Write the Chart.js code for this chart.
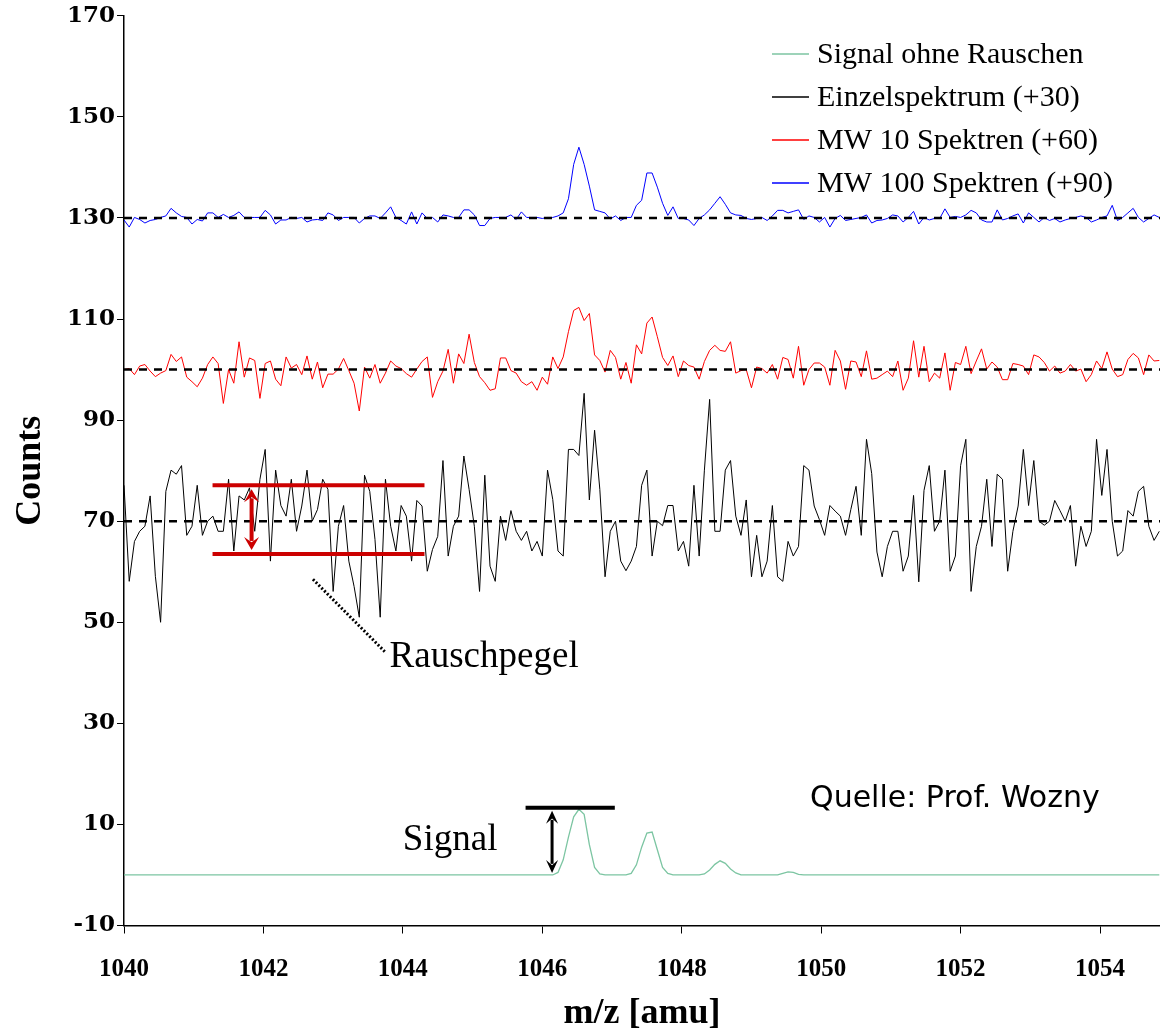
<!DOCTYPE html>
<html>
<head>
<meta charset="utf-8">
<title>Signal und Rauschen</title>
<script src="https://cdn.jsdelivr.net/npm/chart.js@4.4.1/dist/chart.umd.min.js"></script>
<style>
  html, body { margin: 0; padding: 0; background: #fff; }
  #wrap { width: 1160px; height: 1028px; }
</style>
</head>
<body>
<div id="wrap"><canvas id="spectrumChart" width="1160" height="1028"></canvas></div>
<script>
// m/z grid of the spectrum (amu)
const mzStart = 1040;
const mzStep = 0.075;
const mzCount = 199;
const mz = Array.from({ length: mzCount }, (_, i) => +(mzStart + i * mzStep).toFixed(3));

const xTicks = [1040, 1042, 1044, 1046, 1048, 1050, 1052, 1054];
const yTicks = [-10, 10, 30, 50, 70, 90, 110, 130, 150, 170];
const baselines = [70, 100, 130];

// Signal ohne Rauschen
const signal = [
  0, 0, 0, 0, 0, 0, 0, 0, 0, 0,
  0, 0, 0, 0, 0, 0, 0, 0, 0, 0,
  0, 0, 0, 0, 0, 0, 0, 0, 0, 0,
  0, 0, 0, 0, 0, 0, 0, 0, 0, 0,
  0, 0, 0, 0, 0, 0, 0, 0, 0, 0,
  0, 0, 0, 0, 0, 0, 0, 0, 0, 0,
  0, 0, 0, 0, 0, 0, 0, 0, 0, 0,
  0, 0, 0, 0, 0, 0, 0, 0, 0, 0,
  0, 0, 0, 0.5, 3, 7.5, 11.5, 13, 12, 6,
  1.5, 0.2, 0, 0, 0, 0, 0, 0.3, 2, 5.5,
  8.3, 8.5, 5, 1.5, 0.3, 0, 0, 0, 0, 0,
  0, 0.2, 1, 2.1, 2.8, 2.3, 1.2, 0.4, 0, 0,
  0, 0, 0, 0, 0, 0, 0.3, 0.6, 0.5, 0.1,
  0, 0, 0, 0, 0, 0, 0, 0, 0, 0,
  0, 0, 0, 0, 0, 0, 0, 0, 0, 0,
  0, 0, 0, 0, 0, 0, 0, 0, 0, 0,
  0, 0, 0, 0, 0, 0, 0, 0, 0, 0,
  0, 0, 0, 0, 0, 0, 0, 0, 0, 0,
  0, 0, 0, 0, 0, 0, 0, 0, 0, 0,
  0, 0, 0, 0, 0, 0, 0, 0, 0
];

// Einzelspektrum (+30)
const single = [
  77.1, 58.1, 66.0, 68.0, 69.0, 75.0, 59.1, 50.0, 75.9, 80.1,
  79.3, 81.0, 67.2, 69.0, 77.1, 67.2, 70.0, 71.0, 68.0, 68.0,
  78.3, 64.1, 75.0, 74.2, 76.6, 68.0, 78.3, 84.2, 62.1, 80.1,
  73.1, 71.0, 78.3, 68.0, 73.0, 80.1, 70.0, 72.3, 78.3, 76.3,
  56.1, 69.0, 73.1, 62.1, 57.1, 51.0, 79.1, 75.9, 66.4, 51.0,
  78.3, 69.0, 64.1, 73.1, 71.0, 62.1, 74.1, 73.0, 60.1, 64.4,
  67.0, 82.0, 63.1, 69.0, 71.0, 82.9, 76.3, 69.0, 56.1, 79.1,
  61.1, 58.1, 71.0, 66.2, 72.1, 68.0, 66.2, 68.0, 64.1, 66.0,
  63.1, 80.1, 74.3, 64.1, 63.1, 84.2, 84.2, 83.0, 95.3, 74.2,
  88.0, 76.3, 59.0, 68.0, 70.0, 62.1, 60.2, 62.1, 65.0, 77.1,
  80.1, 63.1, 70.0, 69.1, 73.1, 73.1, 64.1, 66.0, 61.1, 77.1,
  63.1, 80.1, 94.1, 68.0, 68.0, 80.1, 82.0, 71.0, 67.2, 74.2,
  59.0, 67.2, 59.0, 62.1, 73.1, 59.0, 58.1, 66.0, 63.1, 65.0,
  81.0, 80.1, 73.0, 70.3, 67.2, 73.1, 72.0, 71.0, 67.2, 72.3,
  76.9, 67.2, 86.2, 79.4, 63.9, 59.0, 65.0, 68.0, 68.0, 60.1,
  63.1, 75.1, 58.0, 76.1, 81.0, 68.0, 70.0, 80.1, 60.1, 63.1,
  81.0, 86.2, 56.1, 65.0, 69.0, 78.3, 65.0, 79.3, 78.3, 60.1,
  68.0, 73.0, 84.2, 73.1, 82.0, 70.0, 69.2, 70.0, 74.1, 72.1,
  70.0, 73.1, 61.1, 69.0, 65.0, 68.0, 86.2, 75.1, 84.2, 70.0,
  63.1, 64.1, 72.1, 71.0, 75.9, 76.9, 69.0, 66.2, 68.0
];

// MW 10 Spektren (+60)
const avg10 = [
  100.0, 100.2, 99.0, 100.7, 101.0, 99.7, 98.6, 99.3, 99.8, 103.0,
  101.6, 102.5, 98.5, 97.6, 96.6, 98.3, 101.0, 102.5, 101.2, 93.3,
  100.0, 97.3, 105.5, 98.5, 102.3, 101.8, 94.3, 101.2, 101.7, 98.1,
  96.8, 102.5, 100.3, 101.0, 99.0, 102.7, 98.1, 101.5, 96.4, 99.1,
  99.1, 100.1, 102.2, 99.8, 97.3, 91.8, 100.5, 98.3, 101.0, 97.3,
  99.3, 101.7, 100.7, 100.2, 99.2, 98.5, 100.1, 101.6, 102.5, 94.5,
  97.6, 99.7, 104.0, 97.3, 103.1, 101.2, 107.0, 101.4, 98.6, 97.4,
  95.9, 96.2, 102.3, 102.3, 99.8, 99.3, 97.6, 96.9, 97.6, 95.9,
  98.5, 97.1, 102.5, 100.2, 102.5, 107.5, 111.7, 112.3, 109.7, 111.1,
  102.9, 101.8, 99.5, 103.8, 102.4, 98.1, 101.4, 97.3, 104.9, 103.1,
  109.2, 110.4, 106.5, 102.4, 100.8, 102.7, 98.6, 101.7, 100.8, 100.5,
  98.1, 101.6, 103.8, 104.8, 103.8, 103.6, 105.5, 99.3, 99.8, 100.0,
  96.4, 100.5, 100.2, 99.3, 101.0, 98.1, 102.4, 102.0, 98.3, 104.6,
  96.9, 100.0, 101.3, 101.3, 100.5, 96.9, 103.8, 101.7, 96.1, 101.7,
  101.5, 98.6, 103.7, 98.1, 98.3, 99.0, 99.7, 98.6, 101.7, 95.9,
  98.3, 105.7, 98.5, 104.6, 97.6, 99.3, 98.3, 103.3, 95.9, 101.4,
  101.0, 104.6, 99.2, 101.7, 104.1, 100.1, 101.5, 100.5, 98.0, 98.0,
  101.2, 101.0, 100.7, 99.0, 102.9, 102.5, 101.4, 99.7, 100.7, 99.3,
  99.7, 101.0, 99.7, 100.1, 97.6, 99.0, 101.7, 100.2, 103.5, 100.1,
  98.6, 99.0, 102.0, 103.2, 102.3, 99.0, 102.9, 101.7, 101.8
];

// MW 100 Spektren (+90)
const avg100 = [
  129.6, 128.2, 130.1, 129.7, 129.0, 129.5, 129.7, 130.1, 130.4, 131.9,
  131.0, 130.3, 130.1, 128.8, 129.7, 129.4, 131.0, 131.0, 130.1, 130.7,
  130.1, 130.5, 131.2, 130.1, 130.1, 130.1, 130.1, 131.5, 130.6, 128.8,
  129.6, 129.6, 130.1, 129.9, 130.1, 129.2, 129.6, 129.7, 129.5, 131.0,
  130.6, 129.5, 130.1, 130.1, 130.1, 129.0, 129.9, 130.4, 130.4, 129.9,
  131.0, 132.2, 130.1, 129.5, 128.8, 131.2, 128.8, 131.0, 129.9, 130.1,
  129.2, 130.6, 130.4, 130.1, 130.1, 131.6, 131.6, 130.6, 128.5, 128.5,
  129.9, 130.1, 130.1, 130.1, 130.6, 129.7, 131.2, 130.1, 130.1, 130.1,
  129.9, 130.1, 130.1, 130.4, 131.0, 133.8, 140.6, 144.0, 140.6, 136.3,
  131.6, 131.3, 131.0, 129.8, 130.4, 129.5, 130.1, 130.1, 132.5, 133.5,
  138.9, 138.9, 136.1, 132.9, 130.5, 132.2, 129.9, 129.9, 129.6, 128.5,
  129.9, 130.6, 131.6, 132.9, 134.2, 132.7, 131.0, 130.6, 130.5, 129.9,
  129.7, 129.9, 130.1, 129.5, 130.4, 131.5, 131.5, 131.0, 131.3, 131.6,
  129.7, 130.4, 130.1, 129.2, 130.1, 128.2, 129.9, 130.5, 129.5, 129.7,
  129.9, 130.1, 130.6, 129.0, 129.5, 129.6, 129.9, 130.6, 130.4, 129.2,
  130.1, 131.3, 128.8, 130.1, 129.6, 129.9, 129.9, 131.8, 130.1, 130.3,
  130.1, 130.6, 131.5, 131.0, 129.6, 129.2, 129.2, 131.6, 129.6, 129.9,
  130.4, 130.8, 129.0, 131.0, 130.1, 129.2, 130.1, 129.5, 129.9, 129.2,
  129.6, 129.9, 130.1, 130.4, 130.1, 129.2, 129.6, 130.1, 130.4, 132.5,
  129.5, 130.1, 131.0, 131.9, 130.1, 129.2, 129.9, 130.6, 130.1
];

const seriesLabels = ['Signal ohne Rauschen', 'Einzelspektrum (+30)', 'MW 10 Spektren (+60)', 'MW 100 Spektren (+90)'];
const seriesColors = ['#7cc5a2', '#000000', '#ff0000', '#0000ff'];

// annotation places (data units)
const noise = { from: 1041.27, to: 1044.31, high: 77.1, low: 63.5, arrowAt: 1041.83 };
const noiseLeader = { x1: 1042.71, y1: 58.5, x2: 1043.74, y2: 44.2 };
const signalMark = { from: 1045.76, to: 1047.04, top: 13.3, arrowAt: 1046.14 };

const serif = 'Liberation Serif, Times New Roman, serif';

function toPoints(values) {
    return values.map((v, i) => ({ x: mz[i], y: v }));
}

function drawDoubleArrow(ctx, x, yTop, yBottom, color, shaft, headW, headH) {
    ctx.save();
    ctx.strokeStyle = color;
    ctx.fillStyle = color;
    ctx.lineWidth = shaft;
    ctx.beginPath();
    ctx.moveTo(x, yTop + headH * 0.7);
    ctx.lineTo(x, yBottom - headH * 0.7);
    ctx.stroke();
    [[yTop, 1], [yBottom, -1]].forEach(([tip, dir]) => {
        ctx.beginPath();
        ctx.moveTo(x, tip);
        ctx.lineTo(x + headW / 2, tip + dir * headH);
        ctx.lineTo(x, tip + dir * headH * 0.6);
        ctx.lineTo(x - headW / 2, tip + dir * headH);
        ctx.closePath();
        ctx.fill();
    });
    ctx.restore();
}

const notesPlugin = {
    id: 'notes',
    afterDatasetsDraw(chart) {
        const { ctx, scales: { x, y } } = chart;
        const px = v => x.getPixelForValue(v);
        const py = v => y.getPixelForValue(v);
        ctx.save();

        // Rauschpegel band
        ctx.strokeStyle = '#cc0000';
        ctx.lineWidth = 4;
        [noise.high, noise.low].forEach(v => {
            ctx.beginPath();
            ctx.moveTo(px(noise.from), py(v));
            ctx.lineTo(px(noise.to), py(v));
            ctx.stroke();
        });
        drawDoubleArrow(ctx, px(noise.arrowAt), py(noise.high) + 4, py(noise.low) - 4, '#cc0000', 4, 15, 13);

        ctx.strokeStyle = '#000';
        ctx.lineWidth = 3;
        ctx.setLineDash([2, 2]);
        ctx.beginPath();
        ctx.moveTo(px(noiseLeader.x1), py(noiseLeader.y1));
        ctx.lineTo(px(noiseLeader.x2), py(noiseLeader.y2));
        ctx.stroke();
        ctx.setLineDash([]);

        // Signal marker
        ctx.lineWidth = 4;
        ctx.beginPath();
        ctx.moveTo(px(signalMark.from), py(signalMark.top));
        ctx.lineTo(px(signalMark.to), py(signalMark.top));
        ctx.stroke();
        drawDoubleArrow(ctx, px(signalMark.arrowAt), py(signalMark.top) + 3, py(0) - 2, '#000', 3, 12, 13);

        // texts
        ctx.fillStyle = '#000';
        ctx.textBaseline = 'alphabetic';
        ctx.textAlign = 'left';
        ctx.font = '37px ' + serif;
        ctx.fillText('Rauschpegel', px(1043.81), py(41.1));
        ctx.fillText('Signal', px(1044.0), py(5.0));
        ctx.font = '30px DejaVu Sans, Verdana, sans-serif';
        ctx.fillText('Quelle: Prof. Wozny', px(1049.84), py(13.5));
        ctx.restore();
    },
    afterDraw(chart) {
        // legend box in the upper right corner
        const { ctx } = chart;
        ctx.save();
        ctx.font = '30px ' + serif;
        ctx.textBaseline = 'middle';
        ctx.fillStyle = '#000';
        seriesLabels.forEach((label, i) => {
            const cy = 54 + i * 43;
            ctx.strokeStyle = seriesColors[i];
            ctx.lineWidth = 1.5;
            ctx.beginPath();
            ctx.moveTo(772, cy);
            ctx.lineTo(809, cy);
            ctx.stroke();
            ctx.fillText(label, 817, cy + 1);
        });
        ctx.restore();
    }
};

const lineSets = [signal, single, avg10, avg100].map((values, i) => ({
    label: seriesLabels[i],
    data: toPoints(values),
    borderColor: seriesColors[i],
    borderWidth: i === 0 ? 1.3 : 1,
    pointRadius: 0,
    tension: 0,
    order: 1
}));

const baseSets = baselines.map(v => ({
    label: 'base ' + v,
    data: [{ x: mzStart, y: v }, { x: 1054.86, y: v }],
    borderColor: '#000',
    borderWidth: 2.5,
    borderDash: [8, 7],
    pointRadius: 0,
    order: 0
}));

new Chart(document.getElementById('spectrumChart'), {
    type: 'line',
    data: { datasets: lineSets.concat(baseSets) },
    options: {
        responsive: false,
        animation: false,
        layout: { padding: { top: 11, left: 0, right: 0, bottom: 0 } },
        plugins: { legend: { display: false }, tooltip: { enabled: false } },
        scales: {
            x: {
                type: 'linear',
                min: 1040,
                max: 1054.86,
                border: { color: '#000', width: 1.5 },
                grid: { drawOnChartArea: false, tickLength: 8, color: '#000' },
                afterBuildTicks: s => { s.ticks = xTicks.map(v => ({ value: v })); },
                ticks: {
                    color: '#000',
                    font: { family: serif, weight: 'bold', size: 25 },
                    padding: 21,
                    maxRotation: 0,
                    callback: v => String(v)
                },
                title: {
                    display: true,
                    text: 'm/z [amu]',
                    color: '#000',
                    font: { family: serif, weight: 'bold', size: 36, lineHeight: 0.8 },
                    padding: { top: 0, bottom: 0 }
                },
                afterFit: s => { s.height = 102.5; }
            },
            y: {
                min: -10,
                max: 170,
                border: { color: '#000', width: 1.5 },
                grid: { drawOnChartArea: false, tickLength: 7, color: '#000' },
                afterBuildTicks: s => { s.ticks = yTicks.map(v => ({ value: v })); },
                ticks: {
                    color: '#000',
                    font: { family: 'DejaVu Serif, serif', weight: 'bold', size: 23 },
                    padding: 2,
                    callback: v => String(v)
                },
                title: {
                    display: true,
                    text: 'Counts',
                    color: '#000',
                    font: { family: serif, weight: 'bold', size: 36 },
                    padding: { top: 9, bottom: 0 }
                },
                afterFit: s => { s.width = 124; }
            }
        }
    },
    plugins: [notesPlugin]
});
</script>
</body>
</html>
